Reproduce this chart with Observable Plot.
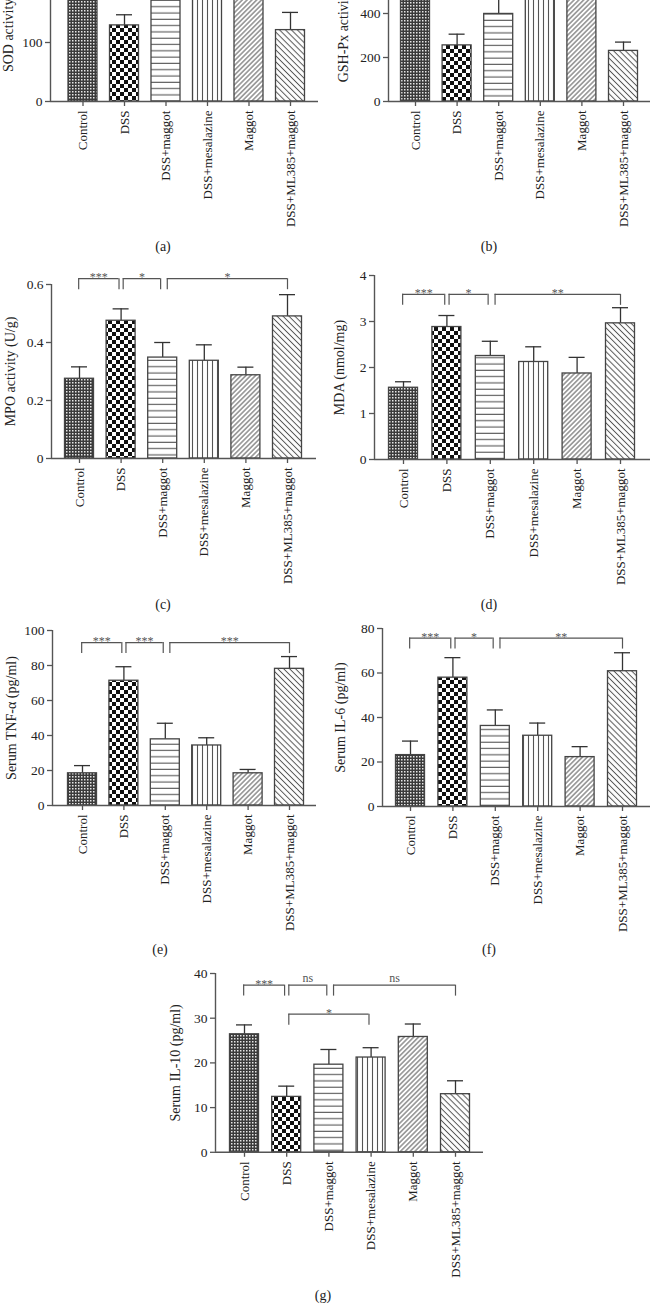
<!DOCTYPE html>
<html><head><meta charset="utf-8">
<script src="https://cdn.jsdelivr.net/npm/d3@7"></script>
<script src="https://cdn.jsdelivr.net/npm/@observablehq/plot@0.6"></script>
<style>
html,body{margin:0;padding:0;background:#fff;}
#root{position:relative;width:652px;height:1314px;overflow:hidden;font-family:"Liberation Serif","DejaVu Serif",serif;}
.cap{position:absolute;font-size:14px;color:#222;transform:translate(-50%,-50%);font-family:"Liberation Serif",serif;z-index:5;}
</style></head><body>
<svg width="0" height="0" style="position:absolute;left:0;top:0">
<defs>
  <pattern id="pControl" width="3" height="3" patternUnits="userSpaceOnUse">
    <rect width="3" height="3" fill="#3a3a3a"/>
    <rect width="1.5" height="1.5" fill="#e6e6e6"/>
  </pattern>
  <pattern id="pDSS" width="8" height="8" patternUnits="userSpaceOnUse">
    <rect width="8" height="8" fill="#fff"/>
    <rect width="4" height="4" fill="#111"/>
    <rect x="4" y="4" width="4" height="4" fill="#111"/>
  </pattern>
  <pattern id="pHline" width="6" height="6.3" patternUnits="userSpaceOnUse">
    <rect width="6" height="6.3" fill="#fff"/>
    <line x1="0" y1="3" x2="6" y2="3" stroke="#555" stroke-width="1.1"/>
  </pattern>
  <pattern id="pVline" width="5" height="6" patternUnits="userSpaceOnUse">
    <rect width="5" height="6" fill="#fff"/>
    <line x1="2.5" y1="0" x2="2.5" y2="6" stroke="#555" stroke-width="1.1"/>
  </pattern>
  <pattern id="pDiagF" width="3.4" height="6" patternUnits="userSpaceOnUse" patternTransform="rotate(45)">
    <rect width="3.4" height="6" fill="#fff"/>
    <line x1="1.7" y1="0" x2="1.7" y2="6" stroke="#555" stroke-width="1"/>
  </pattern>
  <pattern id="pDiagB" width="4.2" height="6" patternUnits="userSpaceOnUse" patternTransform="rotate(-45)">
    <rect width="4.2" height="6" fill="#fff"/>
    <line x1="2.1" y1="0" x2="2.1" y2="6" stroke="#555" stroke-width="1"/>
  </pattern>
</defs></svg>
<div id="root"></div>
<script>
// ---------- data ----------
const groups = ["Control", "DSS", "DSS+maggot", "DSS+mesalazine", "Maggot", "DSS+ML385+maggot"];

const sodMean = [230, 129, 205, 215, 225, 121];
const sodErr  = [20, 18, 20, 20, 20, 30];
const sodTicks = [0, 100];
const sodTop = 300;

const gshMean = [560, 255, 398, 520, 540, 230];
const gshErr  = [40, 51, 75, 40, 40, 40];
const gshTicks = [0, 200, 400];
const gshTop = 800;

const mpoMean = [0.275, 0.475, 0.348, 0.337, 0.287, 0.490];
const mpoErr  = [0.041, 0.041, 0.052, 0.055, 0.028, 0.075];
const mpoTicks = [0, 0.2, 0.4, 0.6];
const mpoSig = [
  {from: "Control", to: "DSS", label: "***", level: 0.62},
  {from: "DSS", to: "DSS+maggot", label: "*", level: 0.62},
  {from: "DSS+maggot", to: "DSS+ML385+maggot", label: "*", level: 0.62}
];

const mdaMean = [1.56, 2.88, 2.25, 2.12, 1.87, 2.96];
const mdaErr  = [0.13, 0.25, 0.32, 0.33, 0.35, 0.34];
const mdaTicks = [0, 1, 2, 3, 4];
const mdaSig = [
  {from: "Control", to: "DSS", label: "***", level: 3.59},
  {from: "DSS", to: "DSS+maggot", label: "*", level: 3.59},
  {from: "DSS+maggot", to: "DSS+ML385+maggot", label: "**", level: 3.59}
];

const tnfMean = [18.4, 71.3, 37.8, 34.3, 18.4, 78.1];
const tnfErr  = [4.4, 8.0, 9.2, 4.4, 2.2, 7.0];
const tnfTicks = [0, 20, 40, 60, 80, 100];
const tnfSig = [
  {from: "Control", to: "DSS", label: "***", level: 93.1},
  {from: "DSS", to: "DSS+maggot", label: "***", level: 93.1},
  {from: "DSS+maggot", to: "DSS+ML385+maggot", label: "***", level: 93.1}
];

const il6Mean = [23.1, 57.9, 36.2, 31.8, 22.2, 60.8];
const il6Err  = [6.3, 9.0, 7.2, 5.7, 4.7, 8.3];
const il6Ticks = [0, 20, 40, 60, 80];
const il6Sig = [
  {from: "Control", to: "DSS", label: "***", level: 75.7},
  {from: "DSS", to: "DSS+maggot", label: "*", level: 75.7},
  {from: "DSS+maggot", to: "DSS+ML385+maggot", label: "**", level: 75.7}
];

const il10Mean = [26.4, 12.4, 19.6, 21.2, 25.8, 13.0];
const il10Err  = [2.1, 2.4, 3.4, 2.2, 2.9, 3.0];
const il10Ticks = [0, 10, 20, 30, 40];
const il10Sig = [
  {from: "Control", to: "DSS", label: "***", level: 37.4},
  {from: "DSS", to: "DSS+maggot", label: "ns", level: 37.4},
  {from: "DSS+maggot", to: "DSS+ML385+maggot", label: "ns", level: 37.4},
  {from: "DSS", to: "DSS+mesalazine", label: "*", level: 30.9}
];

const fills = ["url(#pControl)", "url(#pDSS)", "url(#pHline)", "url(#pVline)", "url(#pDiagF)", "url(#pDiagB)"];

// ---------- layout (pixels on the page) ----------
const panels = [
  {left: 0,   width: 326, axisX: 50,  firstBar: 82.5, step: 41.5, axisEnd: 318, base: 101,   ppu: 0.59,  labelX: 8,   cap: "(a)", capX: 163, capY: 247,
   mean: sodMean, err: sodErr, ticks: sodTicks, top: sodTop, ylabel: "SOD activity (U/mg)", sig: []},
  {left: 326, width: 326, axisX: 388, firstBar: 415,  step: 41.6, axisEnd: 650, base: 101,   ppu: 0.22,  labelX: 343, cap: "(b)", capX: 489, capY: 247,
   mean: gshMean, err: gshErr, ticks: gshTicks, top: gshTop, ylabel: "GSH-Px activity (U/mg)", sig: []},
  {left: 0,   width: 326, axisX: 51,  firstBar: 79,   step: 41.6, axisEnd: 316, base: 458,   ppu: 290,   labelX: 10,  cap: "(c)", capX: 163, capY: 605,
   mean: mpoMean, err: mpoErr, ticks: mpoTicks, ylabel: "MPO activity (U/g)", sig: mpoSig},
  {left: 326, width: 326, axisX: 374, firstBar: 403,  step: 43.4, axisEnd: 650, base: 459.3, ppu: 46,    labelX: 339, cap: "(d)", capX: 489, capY: 605,
   mean: mdaMean, err: mdaErr, ticks: mdaTicks, ylabel: "MDA (nmol/mg)", sig: mdaSig},
  {left: 0,   width: 326, axisX: 52,  firstBar: 82,   step: 41.4, axisEnd: 316, base: 805,   ppu: 1.75,  labelX: 11,  cap: "(e)", capX: 160, capY: 950,
   mean: tnfMean, err: tnfErr, ticks: tnfTicks, ylabel: "Serum TNF-α (pg/ml)", sig: tnfSig},
  {left: 326, width: 326, axisX: 382, firstBar: 410,  step: 42.4, axisEnd: 650, base: 805.5, ppu: 2.225, labelX: 340, cap: "(f)", capX: 489, capY: 950,
   mean: il6Mean, err: il6Err, ticks: il6Ticks, ylabel: "Serum IL-6 (pg/ml)", sig: il6Sig},
  {left: 150, width: 340, axisX: 215, firstBar: 244,  step: 42.2, axisEnd: 483, base: 1152,  ppu: 4.47,  labelX: 175, cap: "(g)", capX: 323, capY: 1296,
   mean: il10Mean, err: il10Err, ticks: il10Ticks, ylabel: "Serum IL-10 (pg/ml)", sig: il10Sig}
];

const root = document.getElementById("root");
const ink = "#333";

function makePanel(cfg) {
  const rows = groups.map((g, i) => ({g, i, mean: cfg.mean[i], err: cfg.err[i], fill: fills[i]}));
  const ymax = cfg.top !== undefined ? cfg.top : cfg.ticks[cfg.ticks.length - 1];
  const mt = 40, mb = 140;
  const top = cfg.base - ymax * cfg.ppu - mt;
  const height = cfg.base - top + mb;
  const xmin = (cfg.axisX - cfg.firstBar) / cfg.step;
  const xmax = (cfg.axisEnd - cfg.firstBar) / cfg.step;
  const hw = 14.5 / cfg.step, cw = 8 / cfg.step;
  const leg = 11 / cfg.ppu;
  const idx = (name) => groups.indexOf(name);
  const sig = cfg.sig.map(s => {
    const a = idx(s.from), b = idx(s.to);
    return {...s, x1: a + (a === 0 ? -0.02 : a === 1 ? 0.05 : 0.11), x2: b - (b === groups.length - 1 ? 0 : 0.05)};
  });
  const svg = Plot.plot({
    width: cfg.width,
    height,
    marginLeft: cfg.axisX - cfg.left,
    marginRight: cfg.left + cfg.width - cfg.axisEnd,
    marginTop: mt,
    marginBottom: mb,
    x: {domain: [xmin, xmax]},
    y: {domain: [0, ymax]},
    color: {type: "identity"},
    style: {fontFamily: "'Liberation Serif', 'DejaVu Serif', serif", fontSize: "13px", background: "transparent", color: "#222", overflow: "visible"},
    marks: [
      Plot.ruleX(rows, {x: "i", y1: "mean", y2: d => d.mean + d.err, stroke: ink, strokeWidth: 1.3}),
      Plot.ruleY(rows, {y: d => d.mean + d.err, x1: d => d.i - cw, x2: d => d.i + cw, stroke: ink, strokeWidth: 1.3}),
      Plot.rect(rows, {x1: d => d.i - hw, x2: d => d.i + hw, y1: 0, y2: "mean", fill: "fill", stroke: "#444", strokeWidth: 1.3}),
      Plot.ruleY([0], {stroke: "#555", strokeWidth: 1.4}),
      Plot.ruleX([xmin], {y1: 0, y2: ymax, stroke: "#555", strokeWidth: 1.4}),
      Plot.axisY({ticks: cfg.ticks, tickFormat: d => String(d), tickSize: 5, tickPadding: 3, label: null, stroke: "#555", strokeWidth: 1.3, fill: "#222", fontSize: 13.5}),
      Plot.axisX({ticks: d3.range(groups.length), tickFormat: i => groups[i], tickRotate: -90, tickSize: 5, tickPadding: 4, label: null, stroke: "#555", strokeWidth: 1.3, fill: "#222", fontSize: 13}),
      Plot.text([cfg.ylabel], {frameAnchor: "left", dx: cfg.labelX - cfg.axisX, rotate: -90, textAnchor: "middle", fontSize: 14, fill: "#222"}),
      Plot.ruleY(sig, {y: "level", x1: "x1", x2: "x2", stroke: "#555", strokeWidth: 1.2}),
      Plot.ruleX(sig, {x: "x1", y1: "level", y2: d => d.level - leg, stroke: "#555", strokeWidth: 1.2}),
      Plot.ruleX(sig, {x: "x2", y1: "level", y2: d => d.level - leg, stroke: "#555", strokeWidth: 1.2}),
      Plot.text(sig, {x: d => (d.x1 + d.x2) / 2, y: "level", text: "label", fontSize: 12, fill: "#555"})
    ]
  });
  // vertical offset of the significance labels (glyph-dependent)
  svg.querySelectorAll("text").forEach(t => {
    if (t.textContent === "ns") t.setAttribute("dy", "-0.55em");
    else if (/^\*+$/.test(t.textContent)) t.setAttribute("dy", "-0.1em");
  });
  svg.style.position = "absolute";
  svg.style.left = cfg.left + "px";
  svg.style.top = top + "px";
  svg.style.maxWidth = "none";
  root.appendChild(svg);
  const cap = document.createElement("div");
  cap.className = "cap";
  cap.textContent = cfg.cap;
  cap.style.left = cfg.capX + "px";
  cap.style.top = cfg.capY + "px";
  root.appendChild(cap);
}

panels.forEach(makePanel);
</script>
</body></html>
